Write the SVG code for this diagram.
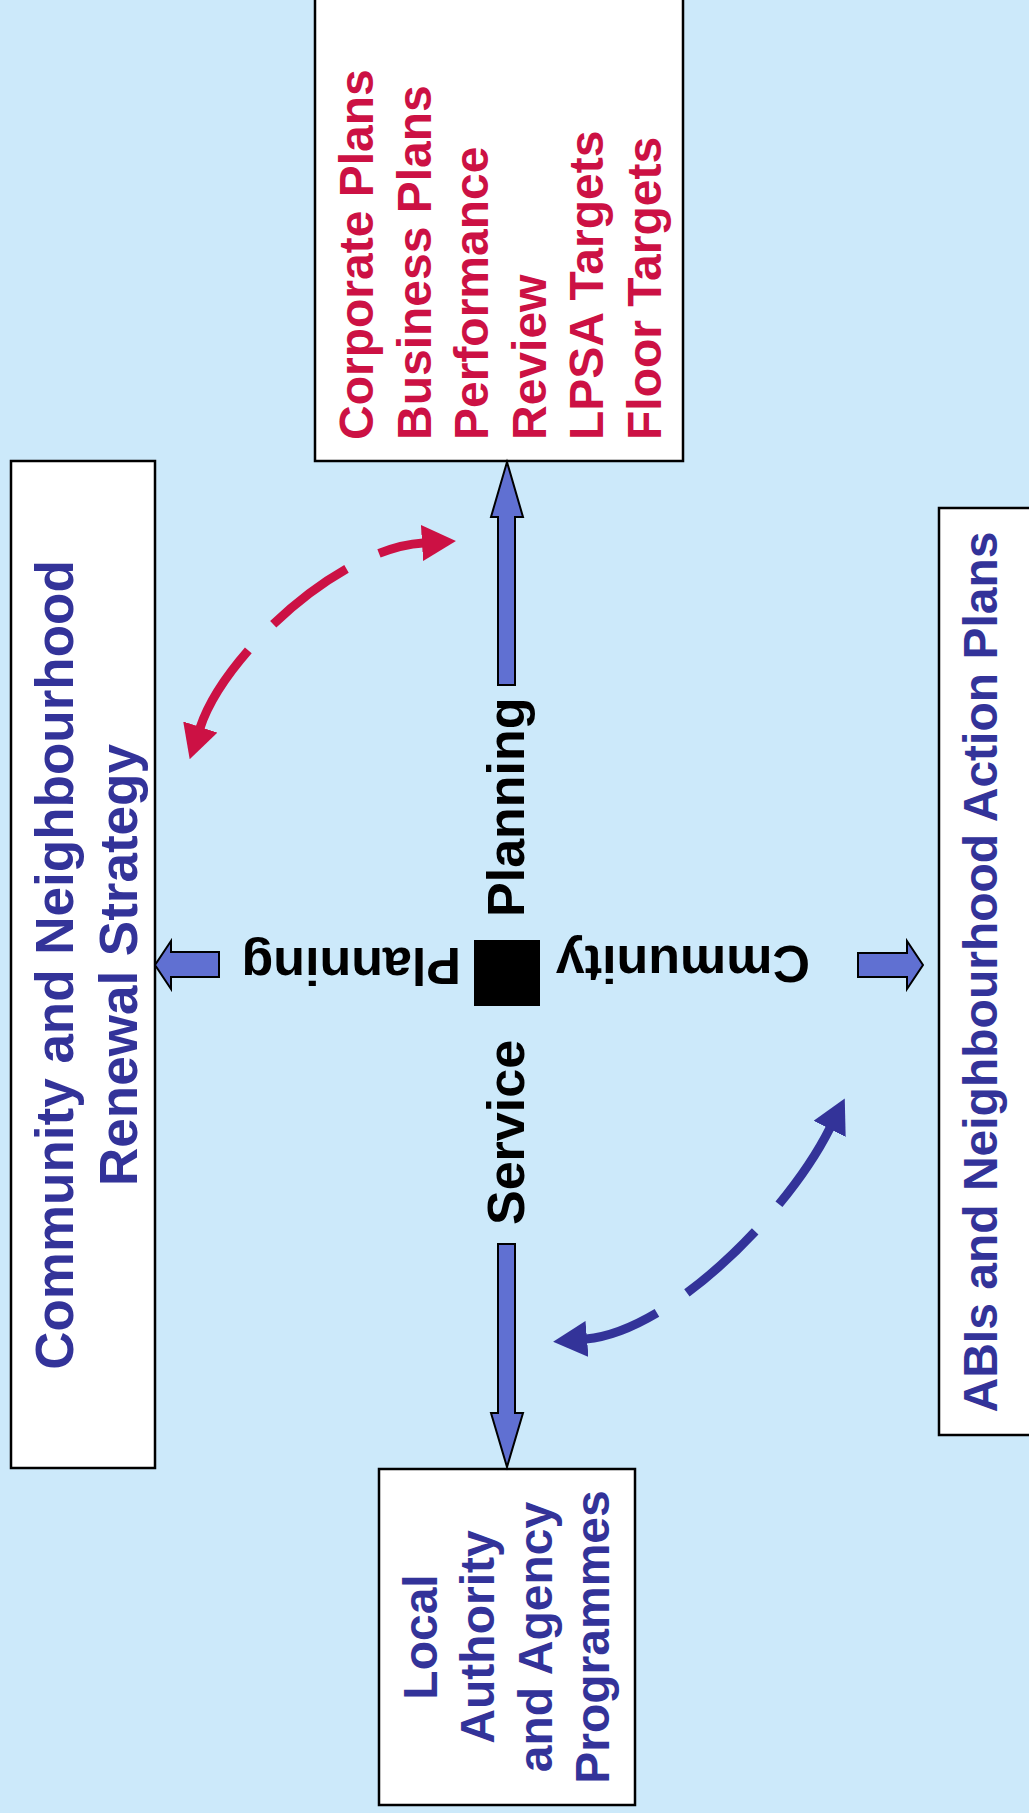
<svg xmlns="http://www.w3.org/2000/svg" width="1029" height="1813" viewBox="0 0 1029 1813">
  <style>
    .box { fill: #FFFFFF; stroke: #000000; stroke-width: 2.5; }
    .t { font-family: "Liberation Sans", Arial, sans-serif; font-weight: bold; }
    .red { fill: #CC1144; font-size: 48px; }
    .blue { fill: #333399; }
    .hub { fill: #000000; font-size: 52px; }
    .block { fill: #6070D2; stroke: #000000; stroke-width: 2; stroke-linejoin: miter; }
    .arc { fill: none; stroke-width: 9; stroke-dasharray: 92 36; }
  </style>
  <defs>
    <marker id="headRed" markerUnits="userSpaceOnUse" viewBox="0 0 34 36" refX="1" refY="18" markerWidth="34" markerHeight="36" orient="auto-start-reverse">
      <path d="M0,0 L34,18 L0,36 Z" fill="#CC1144"/>
    </marker>
    <marker id="headBlue" markerUnits="userSpaceOnUse" viewBox="0 0 34 36" refX="1" refY="18" markerWidth="34" markerHeight="36" orient="auto-start-reverse">
      <path d="M0,0 L34,18 L0,36 Z" fill="#333399"/>
    </marker>
  </defs>

  <rect x="0" y="0" width="1029" height="1813" fill="#CCE9FA"/>

  <g id="node-corporate">
    <rect class="box" x="315" y="-5" width="368" height="466"/>
    <text class="t red" transform="translate(373,440) rotate(-90)">Corporate Plans</text>
    <text class="t red" transform="translate(431,440) rotate(-90)">Business Plans</text>
    <text class="t red" transform="translate(488,440) rotate(-90)">Performance</text>
    <text class="t red" transform="translate(546,440) rotate(-90)">Review</text>
    <text class="t red" transform="translate(603,440) rotate(-90)">LPSA Targets</text>
    <text class="t red" transform="translate(661,440) rotate(-90)">Floor Targets</text>
  </g>

  <g id="node-strategy">
    <rect class="box" x="11" y="461" width="144" height="1007"/>
    <text class="t blue" font-size="53" text-anchor="middle" transform="translate(73,965) rotate(-90)">Community and Neighbourhood</text>
    <text class="t blue" font-size="53" text-anchor="middle" transform="translate(137,965) rotate(-90)">Renewal Strategy</text>
  </g>

  <g id="node-abis">
    <rect class="box" x="939" y="508" width="100" height="927"/>
    <text class="t blue" font-size="48" text-anchor="middle" transform="translate(997,972) rotate(-90)">ABIs and Neighbourhood Action Plans</text>
  </g>

  <g id="node-programmes">
    <rect class="box" x="379" y="1469" width="256" height="336"/>
    <text class="t blue" font-size="48" text-anchor="middle" transform="translate(437,1637) rotate(-90)">Local</text>
    <text class="t blue" font-size="48" text-anchor="middle" transform="translate(494,1637) rotate(-90)">Authority</text>
    <text class="t blue" font-size="48" text-anchor="middle" transform="translate(552,1637) rotate(-90)">and Agency</text>
    <text class="t blue" font-size="48" text-anchor="middle" transform="translate(609,1637) rotate(-90)">Programmes</text>
  </g>

  <g id="node-hub">
    <rect x="474" y="940" width="66" height="66" fill="#000000"/>
    <text class="t hub" transform="translate(524,917) rotate(-90)">Planning</text>
    <text class="t hub" transform="translate(524,1225) rotate(-90)">Service</text>
    <text class="t hub" transform="translate(461,948) rotate(180)">Planning</text>
    <text class="t hub" transform="translate(810,946) rotate(180)">Cmmunity</text>
  </g>

  <g id="connectors">
    <polygon class="block" points="507,462 523,517 515,517 515,685 498,685 498,517 491,517"/>
    <polygon class="block" points="498,1244 515,1244 515,1413 523,1413 507,1467 491,1413 498,1413"/>
    <polygon class="block" points="155,965 171,941 171,952 219,952 219,977 171,977 171,989"/>
    <polygon class="block" points="858,953 907,953 907,941 923,965 907,989 907,977 858,977"/>
    <path class="arc" stroke="#CC1144" d="M200,728 C224,655 339,548 423,543" marker-start="url(#headRed)" marker-end="url(#headRed)"/>
    <path class="arc" stroke="#333399" d="M830,1128 C787,1214 669,1332 586,1339" marker-start="url(#headBlue)" marker-end="url(#headBlue)"/>
  </g>
</svg>
